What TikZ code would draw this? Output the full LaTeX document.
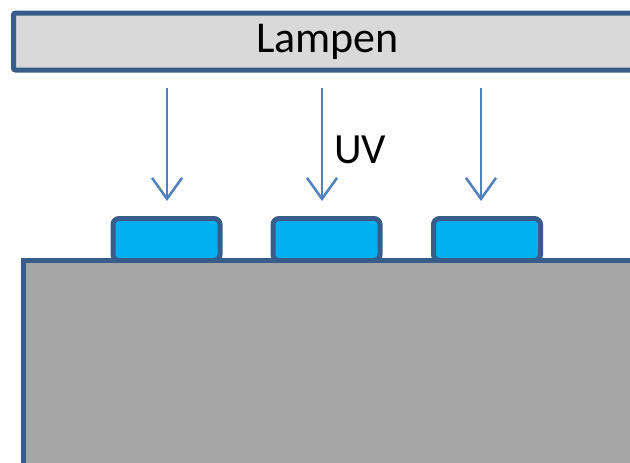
\documentclass[tikz,border=0pt]{standalone}
\usepackage{fontspec}
\setmainfont{Carlito}
\usetikzlibrary{arrows.meta}
\definecolor{edgeblue}{HTML}{385D8A}
\definecolor{rayblue}{HTML}{4F81BD}
\definecolor{lampgray}{HTML}{D9D9D9}
\definecolor{padcyan}{HTML}{00B0F0}
\definecolor{basegray}{HTML}{A6A6A6}
\tikzset{
  lampbar/.style={draw=edgeblue, line width=5pt, fill=lampgray, rounded corners=2pt,
    minimum width=628pt, minimum height=57pt, inner sep=0pt, font=\fontsize{44}{50}\selectfont},
  pad/.style={draw=edgeblue, line width=5pt, fill=padcyan, rounded corners=6pt,
    minimum width=107pt, minimum height=42pt, inner sep=0pt},
  substrate/.style={draw=edgeblue, line width=5pt, fill=basegray,
    minimum width=630pt, minimum height=220pt, inner sep=0pt, anchor=north west},
  ray/.style={draw=rayblue, line width=2.5pt, -{Straight Barb[length=21pt, width=30pt, line width=2.5pt]}},
  label/.style={font=\fontsize{43}{49}\selectfont, inner sep=0pt, anchor=base west}
}
\begin{document}
\begin{tikzpicture}[x=1pt, y=-1pt]
  \useasboundingbox (0,0) rectangle (630,463);
  \begin{scope}
    \clip (0,0) rectangle (630,463);
    % lamp housing across the top
    \node[lampbar] (lamp) at (327.5,41.5) {Lampen};
    % resist pads sitting on the substrate
    \node[pad] (pad1) at (166.5,239.5) {};
    \node[pad] (pad2) at (326.5,239.5) {};
    \node[pad] (pad3) at (487,239.5) {};
    % substrate
    \node[substrate] (base) at (20.5,258) {};
    % UV rays
    \coordinate (s1) at (167,88);  \coordinate (e1) at (167,201);
    \coordinate (s2) at (322,88);  \coordinate (e2) at (322,201);
    \coordinate (s3) at (481,88);  \coordinate (e3) at (481,201);
    \draw[ray] (s1) -- (e1);
    \draw[ray] (s2) -- (e2);
    \draw[ray] (s3) -- (e3);
    \node[label] (uv) at (334,163) {UV};
  \end{scope}
\end{tikzpicture}
\end{document}
